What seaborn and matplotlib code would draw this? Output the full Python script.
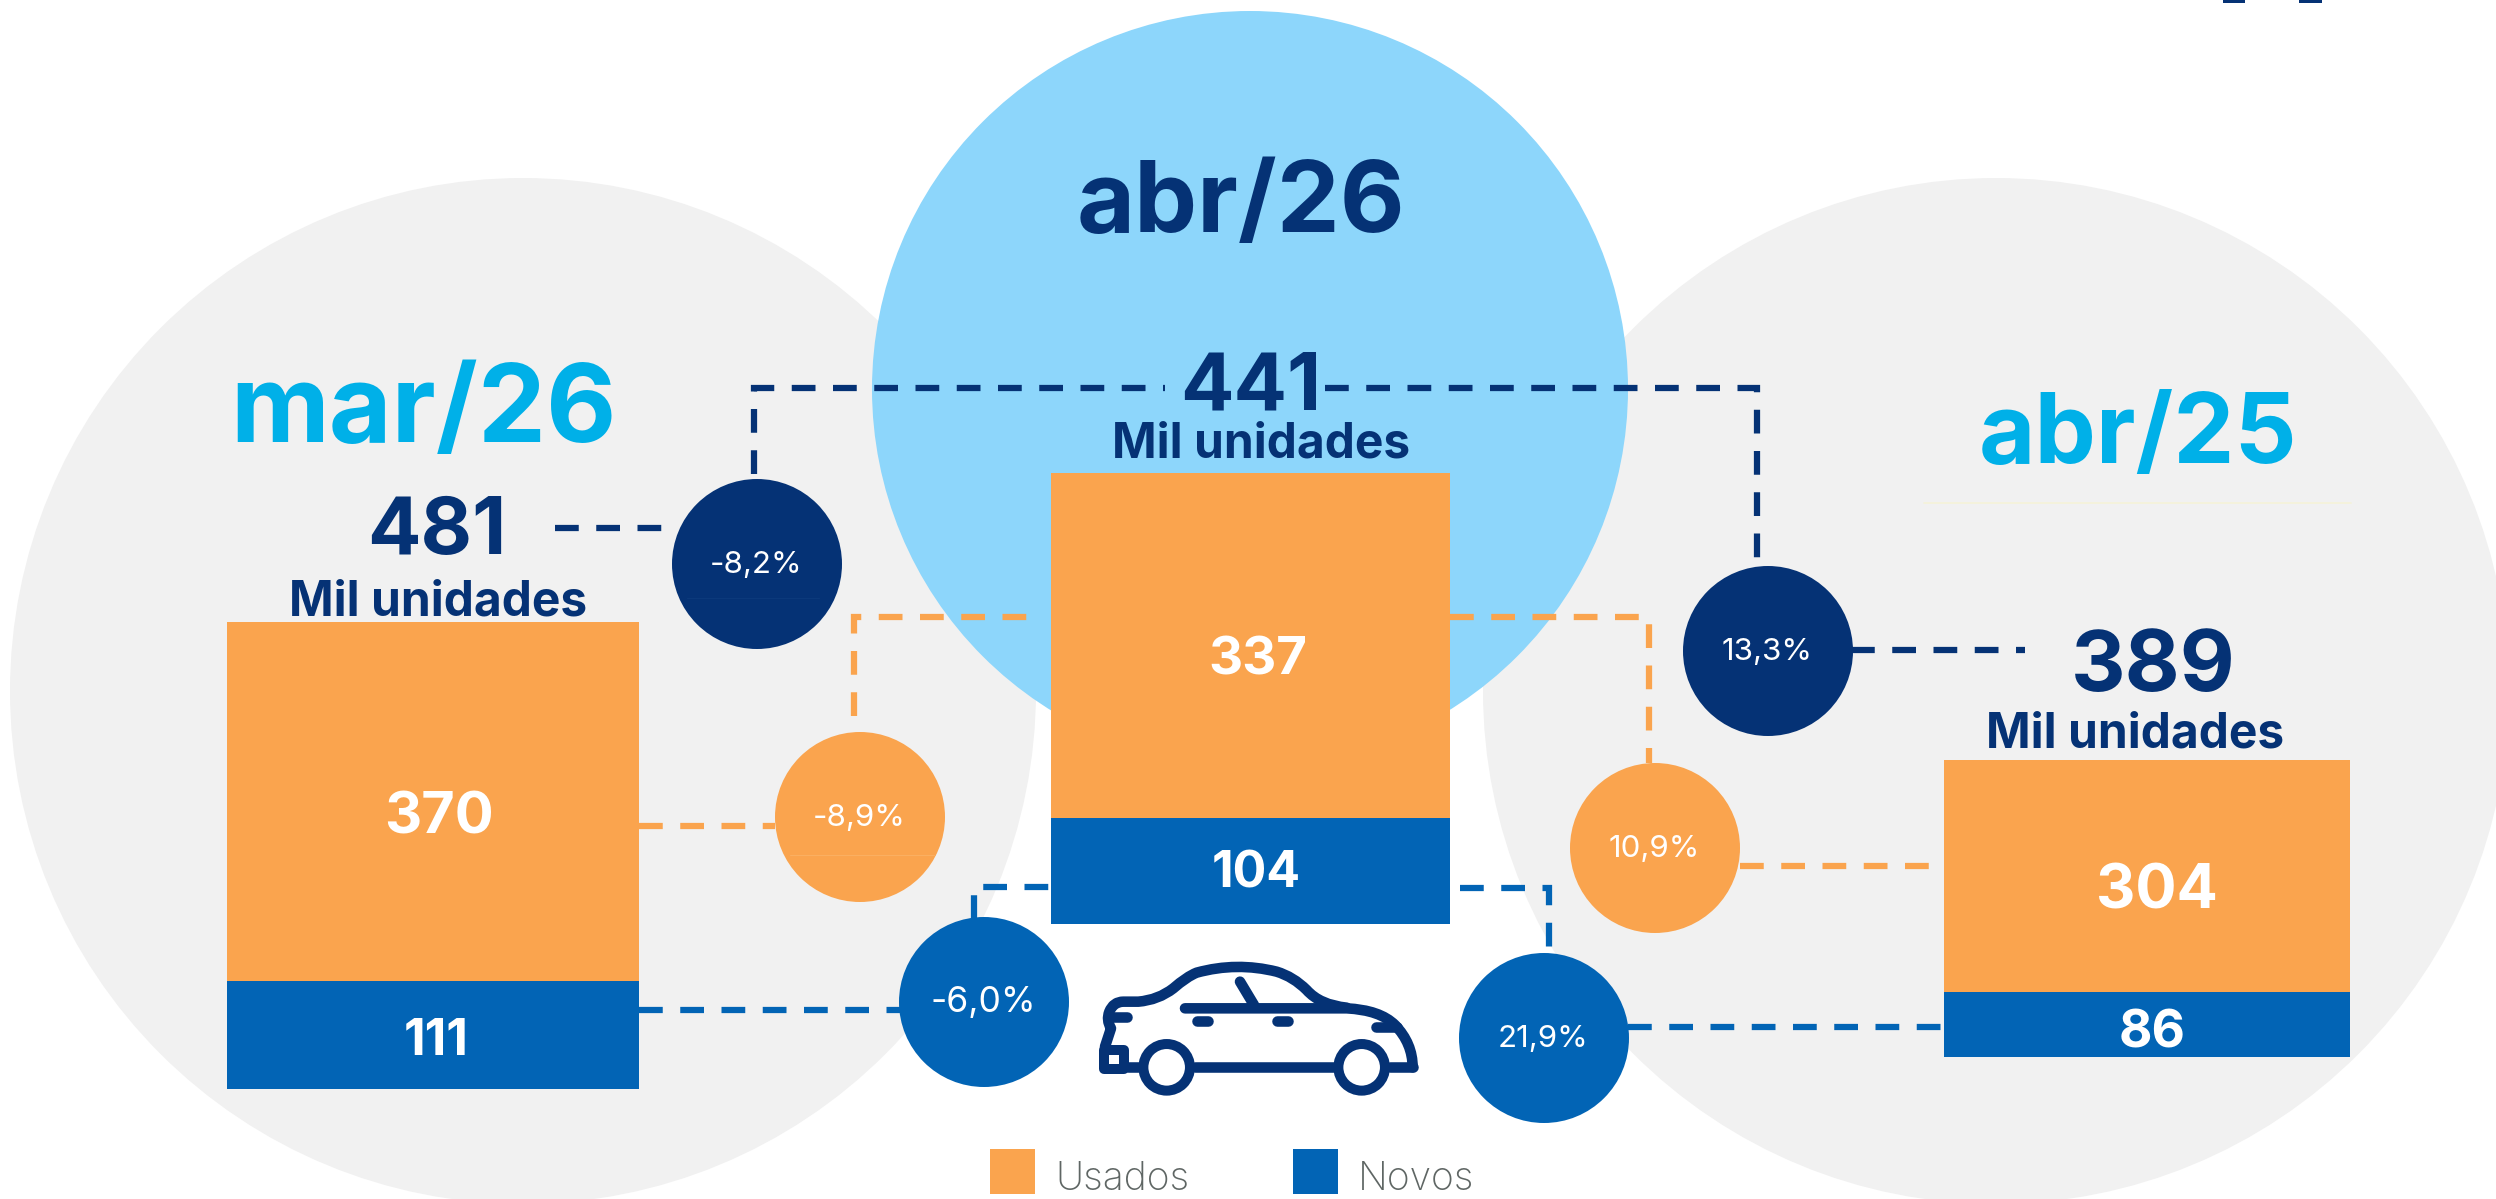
import matplotlib
matplotlib.use("Agg")
import matplotlib.pyplot as plt
import pandas as pd
import seaborn as sns
from matplotlib.patches import Circle, PathPatch, Rectangle
from matplotlib.path import Path

# dados
periodos = ["mar/26", "abr/26", "abr/25"]
usados = [370, 337, 304]
novos = [111, 104, 86]
totais = [481, 441, 389]
var_total = ["-8,2%", "13,3%"]
var_usados = ["-8,9%", "10,9%"]
var_novos = ["-6,0%", "21,9%"]

LARANJA = "#FAA44E"
AZUL = "#0264B5"
MARINHO = "#053275"
CELESTE = "#8DD6FB"
CIANO = "#00B0E8"
CINZA = "#F1F1F1"

sns.set_theme(style="white")
plt.rcParams["font.family"] = ["Inter", "DejaVu Sans"]

W, H = 2496, 1199
fig = plt.figure(figsize=(W / 100, H / 100), dpi=100, facecolor="white")


def eixo_px(z):
    ax = fig.add_axes([0, 0, 1, 1], zorder=z)
    ax.set_xlim(0, W)
    ax.set_ylim(H, 0)
    ax.axis("off")
    ax.patch.set_alpha(0)
    return ax


# fundo: circulos grandes
fundo = eixo_px(0)
fundo.add_patch(Circle((523, 691), 513, color=CINZA, lw=0))
fundo.add_patch(Circle((1996, 691), 513, color=CINZA, lw=0))
fundo.add_patch(Circle((1250, 389), 378, color=CELESTE, lw=0))

# barras: cada periodo tem sua propria escala, como no original
caixas = [(227, 639, 622, 1089), (1051, 1450, 473, 924), (1944, 2350, 760, 1057)]
fs_usados = [41.5, 38, 44]
fs_novos = [36, 36, 37]
desl_usados = [(6, 17), (7, 16), (10, 17)]
desl_novos = [(3, 6), (6, 3), (5, 10)]
for i, (x0, x1, y0, y1) in enumerate(caixas):
    ax = fig.add_axes([x0 / W, 1 - y1 / H, (x1 - x0) / W, (y1 - y0) / H], zorder=1)
    df = pd.DataFrame({"periodo": [periodos[i]], "usados": [usados[i]], "novos": [novos[i]]})
    df["soma"] = df["usados"] + df["novos"]
    sns.barplot(data=df, x="periodo", y="soma", color=LARANJA, width=1, saturation=1, linewidth=0, ax=ax)
    sns.barplot(data=df, x="periodo", y="novos", color=AZUL, width=1, saturation=1, linewidth=0, ax=ax)
    ax.set_xlim(-0.5, 0.5)
    ax.set_ylim(0, usados[i] + novos[i])
    ax.axis("off")
    dx, dy = desl_usados[i]
    ax.annotate(str(usados[i]), (0, novos[i] + usados[i] / 2), xytext=(dx * 0.72, -dy * 0.72),
                textcoords="offset points", color="white", ha="center", va="center",
                fontsize=fs_usados[i], fontweight="bold")
    dx, dy = desl_novos[i]
    ax.annotate(str(novos[i]), (0, novos[i] / 2), xytext=(dx * 0.72, -dy * 0.72),
                textcoords="offset points", color="white", ha="center", va="center",
                fontsize=fs_novos[i], fontweight="bold")

# camada de cima
topo = eixo_px(2)


def tracejado(cor, *pontos):
    xs, ys = zip(*pontos)
    topo.plot(xs, ys, color=cor, lw=4.5, dashes=(3.8, 2.8), dash_capstyle="butt", dash_joinstyle="miter")


tracejado(MARINHO, (754, 474), (754, 388), (1165, 388))
tracejado(MARINHO, (1325, 388), (1757, 388), (1757, 566))
tracejado(MARINHO, (555, 528), (664, 528))
tracejado(MARINHO, (1851, 650), (2025, 650))
tracejado(LARANJA, (854, 716), (854, 617), (1035, 617))
tracejado(LARANJA, (1450, 617), (1649, 617), (1649, 763))
tracejado(LARANJA, (639, 826), (775, 826))
tracejado(LARANJA, (1740, 866), (1931, 866))
tracejado(AZUL, (974, 919), (974, 887), (1051, 887))
tracejado(AZUL, (1460, 888), (1549, 888), (1549, 955))
tracejado(AZUL, (639, 1010), (900, 1010))
tracejado(AZUL, (1628, 1027), (1944, 1027))

# circulos de variacao
circulos = [
    (757, 564, MARINHO, var_total[0], 22.5), (1768, 651, MARINHO, var_total[1], 22.5),
    (860, 817, LARANJA, var_usados[0], 22.5), (1655, 848, LARANJA, var_usados[1], 22.5),
    (984, 1002, AZUL, var_novos[0], 25.5), (1544, 1038, AZUL, var_novos[1], 22.5),
]
for cx, cy, cor, txt, fs in circulos:
    topo.add_patch(Circle((cx, cy), 85, color=cor, lw=0, zorder=3))
    topo.text(cx - 1, cy + 1, txt, color="white", ha="center", va="center", fontsize=fs,
              fontweight="normal", zorder=4)

# detalhes finos do original
topo.plot([687, 819], [598, 598], color="#0C3A7C", lw=0.7, zorder=4)
topo.plot([790, 935], [855, 855], color="#FBB062", lw=0.7, zorder=4)
topo.plot([1924, 2351], [503, 503], color="#F5F3D8", lw=1.2)
topo.add_patch(Rectangle((2223, 0), 22, 3, color=MARINHO, lw=0))
topo.add_patch(Rectangle((2299, 0), 23, 3, color=MARINHO, lw=0))

# titulos
titulos = [(423, 413, 78), (1241, 206, 72), (2138, 438, 70)]
for (x, y, fs), p in zip(titulos, periodos):
    cor = MARINHO if p == "abr/26" else CIANO
    topo.text(x, y, p, color=cor, ha="center", va="center", fontsize=fs, fontweight="bold")

# totais
pos_totais = [(437, 533, 57), (1251, 388, 57), (2153, 668, 61)]
for (x, y, fs), v in zip(pos_totais, totais):
    topo.text(x, y, str(v), color=MARINHO, ha="center", va="center", fontsize=fs, fontweight="bold")
pos_mil = [(438, 602), (1261, 445), (2135, 735)]
for x, y in pos_mil:
    topo.text(x, y, "Mil unidades", color=MARINHO, ha="center", va="center", fontsize=34.5, fontweight="bold")

# carro (contornos do icone, em pixels)
z = lambda a, b: (1080 + a / 3, 940 + b / 3)
LW_CARRO = 7.6


def contorno(inicio, *trechos):
    verts = [z(*inicio)]
    cod = [Path.MOVETO]
    for t in trechos:
        if len(t) == 2:
            verts.append(z(*t))
            cod.append(Path.LINETO)
        else:
            verts += [z(t[0], t[1]), z(t[2], t[3])]
            cod += [Path.CURVE3, Path.CURVE3]
    topo.add_patch(PathPatch(Path(verts, cod), fill=False, ec=MARINHO, lw=LW_CARRO,
                             capstyle="round", joinstyle="round"))


def reta(a, b, lw=LW_CARRO):
    topo.plot(*zip(z(*a), z(*b)), color=MARINHO, lw=lw, solid_capstyle="round")


contorno((75, 320), (93, 265), (78, 240, 88, 215), (100, 185, 130, 185), (175, 185),
         (235, 180, 280, 145), (320, 110, 350, 98), (470, 65, 590, 95), (640, 110, 680, 150),
         (720, 195, 800, 203))
contorno((315, 205), (800, 205), (900, 210, 945, 255), (998, 310, 998, 382))
reta((480, 125), (522, 195))
reta((345, 382), (760, 382))
reta((145, 382), (175, 382))
reta((930, 382), (998, 382))
reta((352, 244), (385, 244))
reta((590, 244), (623, 244))
reta((888, 261), (950, 261))
reta((100, 232), (140, 232))
for cx in (260, 845):
    topo.add_patch(Circle(z(cx, 382), 23.3, fc="white", ec=MARINHO, lw=7.2))
topo.add_patch(Rectangle(z(73, 330), 59 / 3, 57 / 3, fc="white", ec=MARINHO, lw=7.2, joinstyle="round"))

# legenda
topo.add_patch(Rectangle((990, 1149), 45, 45, color=LARANJA, lw=0))
topo.add_patch(Rectangle((1293, 1149), 45, 45, color=AZUL, lw=0))
topo.text(1055, 1190, "Usados", color="#5F6664", ha="left", va="baseline", fontsize=28, fontweight="light")
topo.text(1358, 1190, "Novos", color="#5F6664", ha="left", va="baseline", fontsize=28, fontweight="light")

fig.savefig("out.png", dpi=100)
